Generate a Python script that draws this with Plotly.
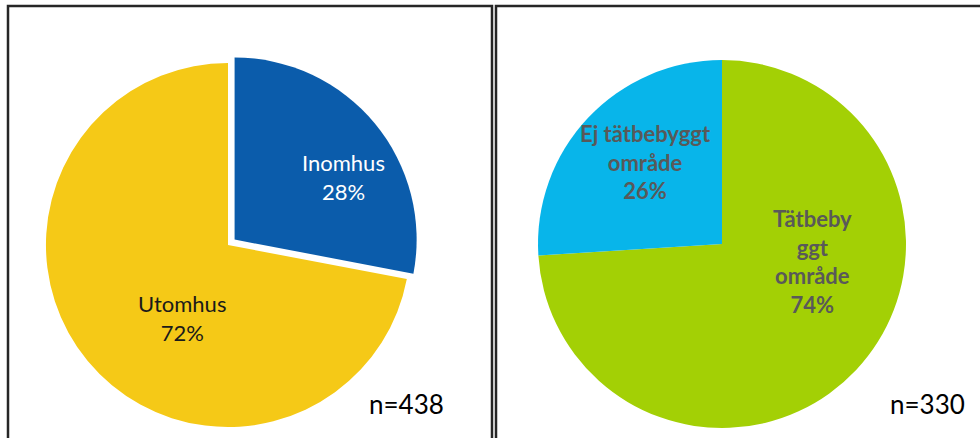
import plotly.graph_objects as go

# Data
left_labels = ["Inomhus", "Utomhus"]
left_values = [28, 72]
left_text = ["Inomhus", "Utomhus"]
left_n = 438

right_labels = ["Tätbebyggt område", "Ej tätbebyggt område"]
right_values = [74, 26]
right_text = ["Tätbeby<br>ggt<br>område", "Ej tätbebyggt<br>område"]
right_n = 330

W, H = 980, 438

def px_x(v):
    return v / W

def px_y(v):
    return 1 - v / H

fig = go.Figure()

fig.add_trace(go.Pie(
    labels=left_labels, values=left_values,
    textinfo="none",
    sort=False, direction="clockwise", rotation=0,
    pull=[0.047, 0],
    marker=dict(colors=["#0B5CAB", "#F5C917"], line=dict(width=0)),
    domain=dict(x=[px_x(37.4), px_x(418.6)], y=[px_y(435.6), px_y(54.4)]),
    showlegend=False, hoverinfo="label+percent",
))

fig.add_trace(go.Pie(
    labels=right_labels, values=right_values,
    textinfo="none",
    sort=False, direction="clockwise", rotation=0,
    marker=dict(colors=["#A3D005", "#08B5EA"], line=dict(width=0)),
    domain=dict(x=[px_x(538), px_x(906)], y=[px_y(428), px_y(60)]),
    showlegend=False, hoverinfo="label+percent",
))

# slice labels (text from the data lists)
def pct(vals, i):
    return f"{round(100 * vals[i] / sum(vals))}%"

label_pos_left = [(343, 177), (182, 318)]
label_col_left = ["#FFFFFF", "#1A1A1A"]
for i, (x, y) in enumerate(label_pos_left):
    fig.add_annotation(x=px_x(x), y=px_y(y), xref="paper", yref="paper",
                       xanchor="center", yanchor="middle",
                       text=f"{left_text[i]}<br>{pct(left_values, i)}",
                       showarrow=False, align="center",
                       font=dict(family="Lato", size=22, color=label_col_left[i]))

label_pos_right = [(812, 261), (645, 162)]
for i, (x, y) in enumerate(label_pos_right):
    fig.add_annotation(x=px_x(x), y=px_y(y), xref="paper", yref="paper",
                       xanchor="center", yanchor="middle",
                       text=f"<b>{right_text[i]}<br>{pct(right_values, i)}</b>",
                       showarrow=False, align="center",
                       font=dict(family="Lato", size=22, color="#595959"))

border = dict(color="#262626", width=2.5)
fig.add_shape(type="rect", xref="paper", yref="paper",
              x0=px_x(8), x1=px_x(492), y0=-0.1, y1=px_y(6), line=border)
fig.add_shape(type="rect", xref="paper", yref="paper",
              x0=px_x(496), x1=1.1, y0=-0.1, y1=px_y(6), line=border)

fig.add_annotation(x=px_x(406), y=px_y(404), xref="paper", yref="paper",
                   xanchor="center", yanchor="middle",
                   text=f"n={left_n}", showarrow=False,
                   font=dict(family="Lato", size=26, color="#000000"))
fig.add_annotation(x=px_x(927), y=px_y(404), xref="paper", yref="paper",
                   xanchor="center", yanchor="middle",
                   text=f"n={right_n}", showarrow=False,
                   font=dict(family="Lato", size=26, color="#000000"))

fig.update_layout(width=W, height=H, margin=dict(l=0, r=0, t=0, b=0),
                  paper_bgcolor="white", plot_bgcolor="white")

fig.write_html("out.html", config={"displayModeBar": False},
               post_script="document.body.style.margin='0px';document.body.style.padding='0px';")
